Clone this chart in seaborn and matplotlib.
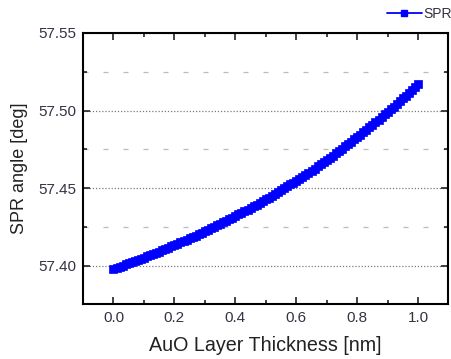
import matplotlib
matplotlib.use("Agg")
import matplotlib.pyplot as plt
import seaborn as sns
import pandas as pd
from matplotlib.ticker import MultipleLocator
from matplotlib.lines import Line2D

thickness = [0.00, 0.01, 0.02, 0.03, 0.04, 0.05, 0.06, 0.07, 0.08, 0.09,
             0.10, 0.11, 0.12, 0.13, 0.14, 0.15, 0.16, 0.17, 0.18, 0.19,
             0.20, 0.21, 0.22, 0.23, 0.24, 0.25, 0.26, 0.27, 0.28, 0.29,
             0.30, 0.31, 0.32, 0.33, 0.34, 0.35, 0.36, 0.37, 0.38, 0.39,
             0.40, 0.41, 0.42, 0.43, 0.44, 0.45, 0.46, 0.47, 0.48, 0.49,
             0.50, 0.51, 0.52, 0.53, 0.54, 0.55, 0.56, 0.57, 0.58, 0.59,
             0.60, 0.61, 0.62, 0.63, 0.64, 0.65, 0.66, 0.67, 0.68, 0.69,
             0.70, 0.71, 0.72, 0.73, 0.74, 0.75, 0.76, 0.77, 0.78, 0.79,
             0.80, 0.81, 0.82, 0.83, 0.84, 0.85, 0.86, 0.87, 0.88, 0.89,
             0.90, 0.91, 0.92, 0.93, 0.94, 0.95, 0.96, 0.97, 0.98, 0.99,
             1.00]
spr_angle = [57.3980, 57.3987, 57.3994, 57.4001, 57.4009, 57.4016, 57.4023, 57.4031, 57.4038, 57.4046,
             57.4053, 57.4061, 57.4069, 57.4076, 57.4084, 57.4092, 57.4100, 57.4109, 57.4117, 57.4125,
             57.4134, 57.4142, 57.4151, 57.4159, 57.4168, 57.4177, 57.4186, 57.4195, 57.4204, 57.4213,
             57.4222, 57.4231, 57.4241, 57.4250, 57.4260, 57.4270, 57.4280, 57.4290, 57.4300, 57.4310,
             57.4320, 57.4331, 57.4341, 57.4352, 57.4362, 57.4373, 57.4384, 57.4395, 57.4406, 57.4417,
             57.4429, 57.4440, 57.4452, 57.4464, 57.4475, 57.4487, 57.4499, 57.4512, 57.4524, 57.4536,
             57.4549, 57.4562, 57.4575, 57.4588, 57.4601, 57.4614, 57.4627, 57.4641, 57.4654, 57.4668,
             57.4682, 57.4696, 57.4710, 57.4725, 57.4739, 57.4754, 57.4769, 57.4784, 57.4799, 57.4814,
             57.4829, 57.4845, 57.4860, 57.4876, 57.4892, 57.4908, 57.4925, 57.4941, 57.4958, 57.4975,
             57.4992, 57.5009, 57.5026, 57.5043, 57.5061, 57.5079, 57.5097, 57.5115, 57.5133, 57.5151,
             57.5170]
series_name = "SPR"
x_label = "AuO Layer Thickness [nm]"
y_label = "SPR angle [deg]"
x_ticks = [0.0, 0.2, 0.4, 0.6, 0.8, 1.0]
y_ticks = [57.40, 57.45, 57.50, 57.55]

df = pd.DataFrame({"x": thickness, "y": spr_angle, "s": series_name})

sns.set_style("white")
plt.rcParams["font.family"] = ["Liberation Sans", "DejaVu Sans"]

fig = plt.figure(figsize=(4.52, 3.59), dpi=100)
ax = fig.add_axes([83 / 452, 1 - 304 / 359, (448 - 83) / 452, (304 - 33) / 359])

sns.lineplot(data=df, x="x", y="y", hue="s", palette={series_name: "#0000ff"},
             marker="s", markersize=5.4, markeredgewidth=0.5, markeredgecolor="#0000ff",
             linewidth=1.5, ax=ax, legend=False)

ax.set_xlim(-0.1, 1.098)
ax.set_ylim(57.3754, 57.55)
ax.set_xticks(x_ticks)
ax.set_xticklabels([f"{t:.1f}" for t in x_ticks])
ax.set_yticks(y_ticks)
ax.set_yticklabels([f"{t:.2f}" for t in y_ticks])
ax.xaxis.set_minor_locator(MultipleLocator(0.1))
ax.yaxis.set_minor_locator(MultipleLocator(0.025))

ax.tick_params(which="both", direction="in", top=True, right=True,
               bottom=True, left=True, colors="#222222", labelcolor="#333344",
               labelsize=11, width=1.2)
ax.tick_params(which="major", length=5, pad=5)
ax.tick_params(which="minor", length=3)

for sp in ax.spines.values():
    sp.set_color("black")
    sp.set_linewidth(1.5)

ax.grid(False)
ax.yaxis.grid(True, which="major", color="#7a7a7a", linestyle=(0, (1, 1.5)), linewidth=0.9)
ax.yaxis.grid(True, which="minor", color="#bbbbbb", linestyle=(0, (4, 12)), linewidth=0.9)
ax.set_axisbelow(True)

ax.set_xlabel(x_label, fontsize=14.2, color="#222222", labelpad=8)
ax.set_ylabel(y_label, fontsize=13, color="#222222", labelpad=7)

handle = Line2D([], [], color="#0000ff", marker="s", markersize=4.5, linewidth=1.3)
fig.legend([handle], [series_name], loc="center left", bbox_to_anchor=(387 / 452, 1 - 14 / 359),
           frameon=False, fontsize=10, handlelength=2.5, handletextpad=0.15, borderpad=0,
           borderaxespad=0, labelcolor="#333344")

fig.savefig("out.png", dpi=100)
